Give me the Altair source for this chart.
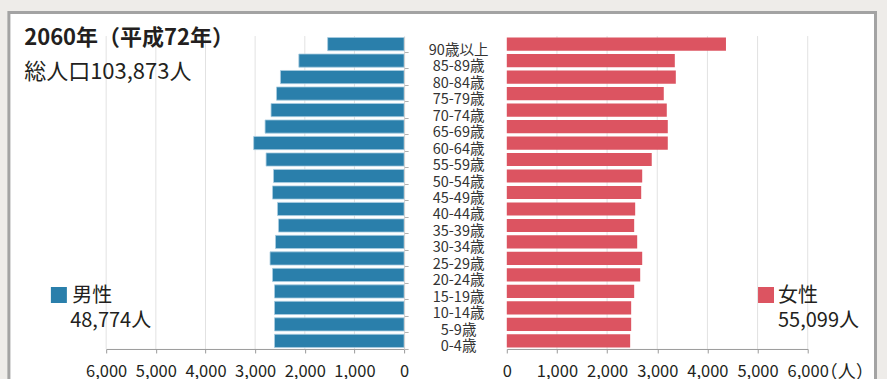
import altair as alt
import pandas as pd

# Population pyramid, 2060 projection (thousands of people)
ages = ["90歳以上", "85-89歳", "80-84歳", "75-79歳", "70-74歳", "65-69歳",
        "60-64歳", "55-59歳", "50-54歳", "45-49歳", "40-44歳", "35-39歳",
        "30-34歳", "25-29歳", "20-24歳", "15-19歳", "10-14歳", "5-9歳", "0-4歳"]
male = [1540, 2120, 2490, 2570, 2680, 2800, 3030, 2780, 2630, 2650,
        2550, 2530, 2590, 2700, 2650, 2610, 2610, 2610, 2610]
female = [4370, 3350, 3370, 3130, 3190, 3210, 3210, 2890, 2700, 2680,
          2560, 2540, 2600, 2700, 2660, 2540, 2480, 2480, 2460]
tick_values = [0, 1000, 2000, 3000, 4000, 5000, 6000]
grid_values = [1000, 2000, 3000, 4000, 5000, 6000]

title_text = "2060年（平成72年）"
total_text = "総人口103,873人"
male_label, male_total = "男性", "48,774人"
female_label, female_total = "女性", "55,099人"
unit_text = "（人）"

FONT = "Noto Sans CJK JP"
TEXT = "#231f20"
MALE_COLOR = "#2a7fab"
FEMALE_COLOR = "#dc5461"
GRID = "#e2e2e2"

W_L, W_R, H = 298, 301, 313

df = pd.DataFrame({"age": ages, "male": male, "female": female})
grid = pd.DataFrame({"v": grid_values})

band = alt.Scale(paddingInner=0.2, paddingOuter=0.09)

x_axis = alt.Axis(values=tick_values, format=",.0f", grid=False, title=None,
                  domainColor="#9a9a9a", tickColor="#9a9a9a", tickSize=4,
                  labelFont=FONT, labelFontSize=16.5, labelColor=TEXT,
                  labelBaseline="alphabetic", labelPadding=24,
                  labelFlush=False, labelAlign="center",
                  labelOverlap=False, zindex=1)


def note(text, x, y, size=20, weight="normal", align="left",
         baseline="middle"):
    return alt.Chart(alt.Data(values=[{"t": text}])).mark_text(
        font=FONT, fontSize=size, fontWeight=weight, color=TEXT,
        align=align, baseline=baseline,
    ).encode(text="t:N", x=alt.value(x), y=alt.value(y))


def square(color, x, y):
    return alt.Chart(alt.Data(values=[{}])).mark_square(
        size=256, color=color, opacity=1, filled=True
    ).encode(x=alt.value(x), y=alt.value(y))


# ---- male side (scale reversed so bars grow leftwards) ----
left_scale = alt.Scale(domain=[0, 6000], reverse=True, nice=False)

frame = alt.Chart(alt.Data(values=[{}])).mark_rect(
    fill="white", stroke="#a3a3a3", strokeWidth=3
).encode(x=alt.value(-97.3), x2=alt.value(769.5),
         y=alt.value(-23.5), y2=alt.value(372))

left_grid = alt.Chart(grid).mark_rule(color=GRID, strokeWidth=1).encode(
    x=alt.X("v:Q", scale=left_scale)
)

left_bars = alt.Chart(df).mark_bar(
    color=MALE_COLOR, stroke="#a9cde1", strokeWidth=0.8
).encode(
    x=alt.X("male:Q", scale=left_scale, axis=x_axis),
    y=alt.Y("age:N", sort=ages, scale=band, title=None,
            axis=alt.Axis(orient="right", title=None, domain=True,
                          domainColor="#cfcfcf", ticks=True,
                          tickColor="#b0b0b0", tickSize=4,
                          bandPosition=1.125, labelAlign="center",
                          labelBaseline="middle", labelPadding=50,
                          labelOffset=6.5, labelFont=FONT,
                          labelFontSize=14.5, labelColor="#333333",
                          zindex=1)),
)

left = alt.layer(
    frame,
    left_grid,
    left_bars,
    note(title_text, -82, 9, size=22, weight="bold", baseline="alphabetic"),
    note(total_text, -82, 43, size=22, baseline="alphabetic"),
    square(MALE_COLOR, -47.3, 259),
    note(male_label, -34, 260),
    note(male_total, -36, 285),
).properties(width=W_L, height=H)

# ---- female side ----
right_scale = alt.Scale(domain=[0, 6000], nice=False)

right_grid = alt.Chart(grid).mark_rule(color=GRID, strokeWidth=1).encode(
    x=alt.X("v:Q", scale=right_scale)
)

right_bars = alt.Chart(df).mark_bar(color=FEMALE_COLOR).encode(
    x=alt.X("female:Q", scale=right_scale, axis=x_axis),
    y=alt.Y("age:N", sort=ages, scale=band, axis=None),
)

right = alt.layer(
    right_grid,
    right_bars,
    square(FEMALE_COLOR, 259.3, 259),
    note(female_label, 271.3, 260),
    note(female_total, 271.3, 285),
    note(unit_text, 313, 342, size=18, baseline="alphabetic"),
).properties(width=W_R, height=H)

chart = alt.hconcat(left, right, spacing=102.7, bounds="flush").properties(
    padding={"left": 7.2, "top": 11, "right": 10, "bottom": 0}
).configure(background="#eeece9").configure_view(stroke=None)

chart.save("out.html", embed_options={"renderer": "svg", "actions": False})
